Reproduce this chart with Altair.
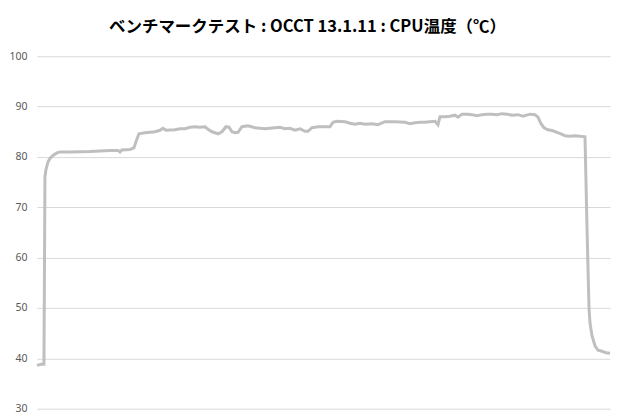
import altair as alt
import pandas as pd

# time index (samples) and CPU temperature (°C)
t = [0, 4, 7, 8, 9, 11, 13, 16, 20, 23, 33, 53, 63, 73, 81, 83, 85, 93, 97, 99, 102,
     108, 118, 123, 126, 129, 138, 143, 148, 153, 158, 163, 168, 171, 175, 181, 185,
     189, 192, 195, 198, 201, 205, 211, 218, 228, 238, 243, 248, 253, 258, 263, 268,
     271, 275, 281, 288, 293, 296, 300, 308, 313, 318, 323, 328, 335, 341, 348, 358,
     368, 373, 378, 383, 388, 393, 398, 401, 403, 408, 413, 418, 421, 425, 431, 435,
     440, 445, 450, 455, 460, 465, 470, 475, 481, 486, 493, 498, 501, 504, 507, 511,
     516, 520, 524, 528, 533, 538, 543, 548, 549, 550, 551, 552, 553, 555, 558, 561,
     565, 569, 573]
temp = [38.6, 38.8, 38.8, 76.0, 77.5, 79.0, 79.7, 80.3, 80.8, 81.0, 81.0, 81.1, 81.2,
        81.3, 81.3, 81.0, 81.4, 81.5, 81.8, 83.0, 84.6, 84.8, 85.0, 85.3, 85.7, 85.3,
        85.4, 85.6, 85.6, 85.9, 86.0, 85.9, 86.0, 85.5, 85.0, 84.6, 85.0, 86.0, 85.9,
        85.0, 84.8, 84.9, 86.0, 86.2, 85.8, 85.6, 85.8, 85.9, 85.6, 85.7, 85.3, 85.6,
        85.1, 85.1, 85.8, 86.0, 86.0, 86.0, 86.9, 87.1, 87.0, 86.7, 86.5, 86.7, 86.5,
        86.6, 86.4, 87.0, 87.0, 86.9, 86.6, 86.8, 86.9, 86.9, 87.0, 87.1, 86.4, 88.0,
        88.0, 88.1, 88.3, 87.9, 88.5, 88.5, 88.4, 88.2, 88.4, 88.5, 88.5, 88.4, 88.6,
        88.5, 88.3, 88.4, 88.1, 88.5, 88.4, 87.9, 86.6, 85.8, 85.4, 85.2, 84.9, 84.6,
        84.2, 84.1, 84.2, 84.1, 84.0, 75.0, 66.0, 58.0, 50.0, 47.0, 44.5, 42.5, 41.6,
        41.4, 41.1, 41.0]

y_ticks = [30, 40, 50, 60, 70, 80, 90, 100]
title_text = "ベンチマークテスト : OCCT 13.1.11 : CPU温度（℃）"

df = pd.DataFrame({"t": t, "temp": temp})

chart = (
    alt.Chart(df)
    .mark_line(color="#BFBFBF", strokeWidth=3, interpolate="linear")
    .encode(
        x=alt.X("t:Q", scale=alt.Scale(domain=[0, 573], nice=False, zero=False),
                axis=None),
        y=alt.Y("temp:Q", scale=alt.Scale(domain=[30, 100], nice=False, zero=False),
                axis=alt.Axis(values=y_ticks, title=None, domain=False, ticks=False,
                              labelPadding=10, labelFontSize=10.5,
                              labelFont="Noto Sans", labelColor="#595959",
                              grid=True, gridColor="#D9D9D9", gridWidth=1)),
    )
    .properties(
        width=574,
        height=353,
        background="white",
        autosize=alt.AutoSizeParams(type="none"),
        padding={"left": 29, "top": 48, "right": 2, "bottom": 5},
        title=alt.TitleParams(title_text, font="Noto Sans CJK JP", fontSize=16.5,
                              fontWeight="bold", color="#000000", anchor="middle",
                              offset=16, dx=-16),
    )
    .configure_view(strokeWidth=0, stroke="transparent")
)

chart.save("out.html", embed_options={"renderer": "svg", "actions": False})
